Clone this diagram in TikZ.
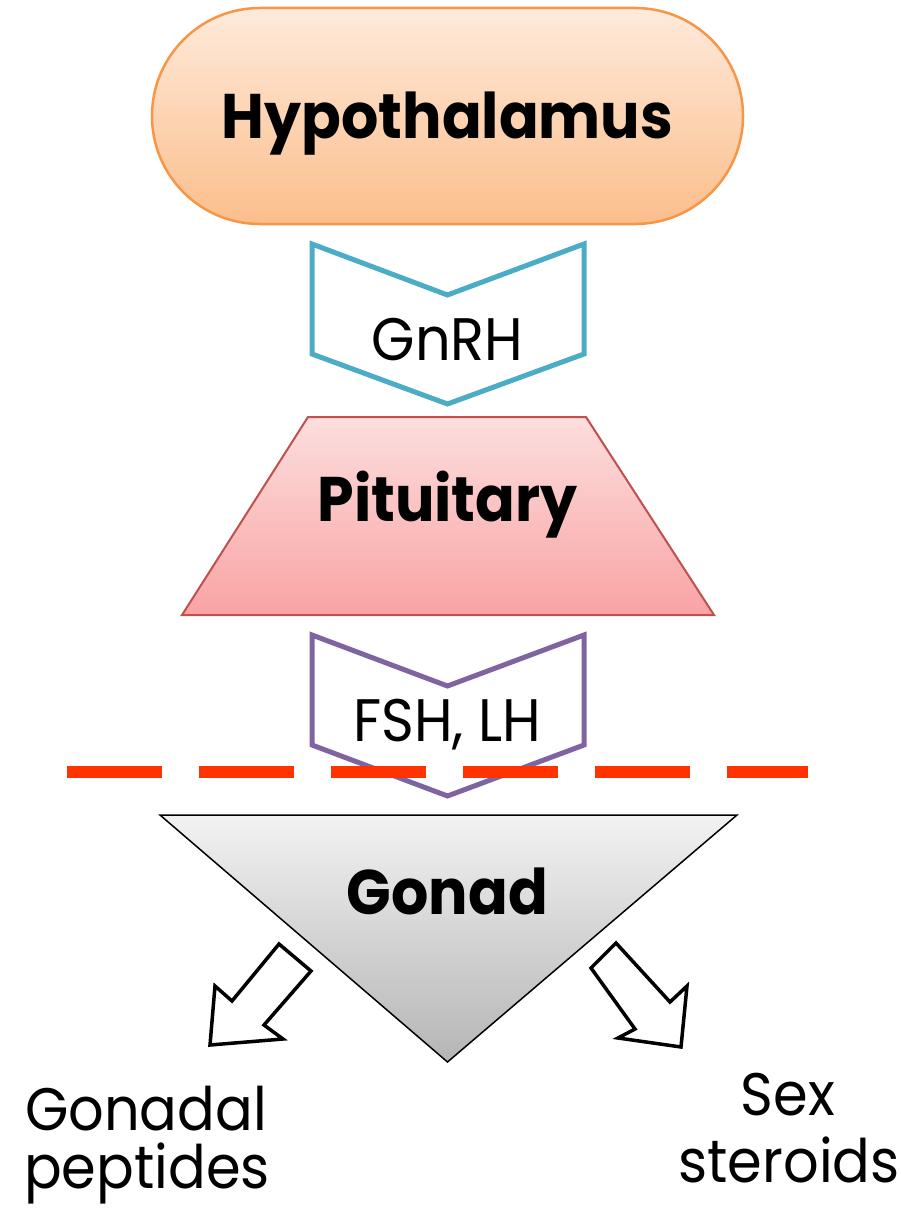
\documentclass[tikz,border=0pt]{standalone}
\usepackage{fontspec}
\setmainfont{Poppins}[FakeStretch=0.93]
\begin{document}
\begin{tikzpicture}[x=1pt,y=-1pt,
  title/.style={font=\fontsize{63}{63}\selectfont\bfseries, anchor=base, inner sep=0pt},
  lbl/.style={font=\fontsize{60}{60}\selectfont, anchor=base, inner sep=0pt},
  chev/.style={line width=5pt, line join=miter, fill=white},
  blockarrow/.style={draw=black, line width=3.5pt, line join=miter, fill=white}]
\definecolor{hypoedge}{HTML}{F79646}
\definecolor{hypotop}{HTML}{FEEADB}
\definecolor{hypobot}{HTML}{FBBE8C}
\definecolor{pitedge}{HTML}{C0504D}
\definecolor{pittop}{HTML}{FDDEDE}
\definecolor{pitbot}{HTML}{F9A3A3}
\definecolor{gnrhcol}{HTML}{4BACC6}
\definecolor{fshcol}{HTML}{8064A2}
\definecolor{cutline}{HTML}{FF3300}
\definecolor{gontop}{HTML}{F2F2F2}
\definecolor{gonbot}{HTML}{B5B5B5}

\useasboundingbox (0,0) rectangle (900,1209);
\fill[white] (0,0) rectangle (900,1209);

% hypothalamus capsule
\draw[draw=hypoedge, line width=2.5pt, top color=hypotop, bottom color=hypobot,
      rounded corners=107.9pt] (152,8) rectangle (743,224);
\node[title] (hypo) at (447.5,139) {Hypothalamus};

% GnRH chevron
\draw[chev, draw=gnrhcol] (312,244) -- (447.5,295) -- (584,244) -- (584,354)
      -- (447.5,404) -- (312,354) -- cycle;
\node[lbl] (gnrh) at (447.5,360) {GnRH};

% pituitary trapezium
\draw[draw=pitedge, line width=2pt, top color=pittop, bottom color=pitbot, line join=miter]
      (308,417) -- (586,417) -- (714,615) -- (182,615) -- cycle;
\node[title] (pit) at (447.5,521) {Pituitary};

% FSH, LH chevron
\draw[chev, draw=fshcol] (312,635) -- (447.5,686) -- (584,635) -- (584,745)
      -- (447.5,796) -- (312,745) -- cycle;
\node[lbl] (fsh) at (447.5,741) {FSH, LH};

% dashed cut line
\coordinate (cutL) at (67,772);
\coordinate (cutR) at (808,772);
\draw[cutline, line width=12pt, dash pattern=on 95pt off 37pt] (cutL) -- (cutR);

% gonad triangle
\draw[draw=black, line width=1.5pt, top color=gontop, bottom color=gonbot, line join=miter]
      (160,815) -- (737,815) -- (447.5,1062) -- cycle;
\node[title] (gonad) at (447.5,914.5) {Gonad};

% outgoing block arrows
\draw[blockarrow] (279,944) -- (311,971) -- (264,1025) -- (283,1039) -- (210,1045)
      -- (215,986) -- (232,1001) -- cycle;
\draw[blockarrow] (616,943) -- (591,968) -- (635,1029) -- (618,1038) -- (681,1047)
      -- (687,986) -- (670,1002) -- cycle;

% product labels
\node[lbl] (pepA) at (146,1130) {Gonadal};
\node[lbl] (pepB) at (147,1188) {peptides};
\node[lbl] (sterA) at (788,1115) {Sex};
\node[lbl] (sterB) at (789,1182) {steroids};
\end{tikzpicture}
\end{document}
